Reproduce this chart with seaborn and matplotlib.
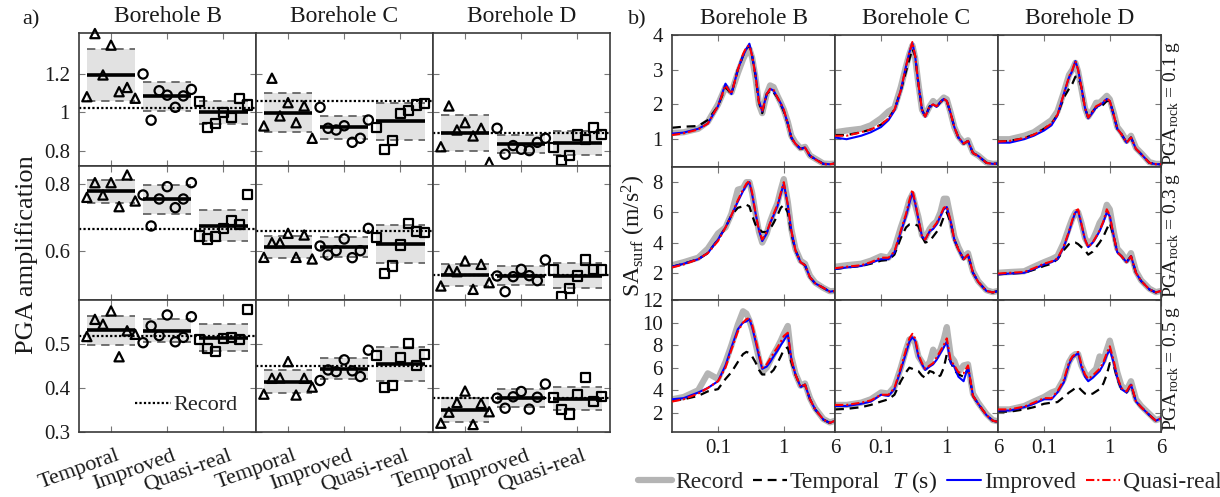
import numpy as np
import matplotlib
matplotlib.use("Agg")
import matplotlib.pyplot as plt
import seaborn as sns
from matplotlib.lines import Line2D
from matplotlib.ticker import FixedLocator, NullLocator, FormatStrFormatter
from matplotlib.transforms import ScaledTranslation

# ---------------- data: panel a (PGA amplification) ----------------
boreholes = ["Borehole B", "Borehole C", "Borehole D"]
methods = ["Temporal", "Improved", "Quasi-real"]
pga_levels = ["0.1", "0.3", "0.5"]

B1_tmp = [1.082, 1.41, 1.195, 1.35, 1.108, 1.13, 1.074]
B1_imp = [1.20, 0.96, 1.113, 1.09, 1.027, 1.086, 1.12]
B1_qr = [1.056, 0.921, 0.944, 0.999, 0.973, 1.074, 1.039]
C1_tmp = [0.93, 1.178, 0.982, 1.051, 0.947, 1.034, 0.866]
C1_imp = [1.027, 0.918, 0.909, 0.931, 0.845, 0.866, 0.961]
C1_qr = [0.921, 0.809, 0.853, 0.996, 1.009, 1.039, 1.048]
D1_tmp = [0.822, 1.034, 0.909, 0.947, 0.878, 0.918, 0.741]
D1_imp = [0.918, 0.783, 0.828, 0.809, 0.802, 0.845, 0.866]
D1_qr = [0.817, 0.75, 0.776, 0.883, 0.861, 0.921, 0.887]

B2_tmp = [0.760, 0.804, 0.767, 0.804, 0.732, 0.827, 0.749]
B2_imp = [0.767, 0.674, 0.755, 0.792, 0.729, 0.755, 0.804]
B2_qr = [0.644, 0.635, 0.642, 0.667, 0.690, 0.679, 0.769]
C2_tmp = [0.580, 0.624, 0.624, 0.652, 0.580, 0.647, 0.575]
C2_imp = [0.614, 0.587, 0.600, 0.635, 0.579, 0.600, 0.667]
C2_qr = [0.639, 0.532, 0.554, 0.617, 0.682, 0.657, 0.655]
D2_tmp = [0.494, 0.542, 0.537, 0.569, 0.484, 0.559, 0.504]
D2_imp = [0.524, 0.477, 0.522, 0.544, 0.525, 0.510, 0.572]
D2_qr = [0.542, 0.462, 0.487, 0.524, 0.572, 0.544, 0.542]

B3_tmp = [0.517, 0.556, 0.545, 0.575, 0.471, 0.530, 0.522]
B3_imp = [0.503, 0.541, 0.519, 0.566, 0.505, 0.515, 0.562]
B3_qr = [0.511, 0.490, 0.483, 0.513, 0.515, 0.511, 0.579]
C3_tmp = [0.386, 0.422, 0.423, 0.460, 0.384, 0.422, 0.402]
C3_imp = [0.417, 0.441, 0.437, 0.464, 0.439, 0.426, 0.486]
C3_qr = [0.473, 0.402, 0.405, 0.470, 0.502, 0.451, 0.477]
D3_tmp = [0.320, 0.345, 0.367, 0.393, 0.317, 0.365, 0.346]
D3_imp = [0.377, 0.354, 0.380, 0.392, 0.352, 0.379, 0.409]
D3_qr = [0.379, 0.352, 0.341, 0.386, 0.424, 0.369, 0.380]

record_row1 = [1.025, 1.061, 0.892]
record_row2 = [0.665, 0.660, 0.527]
record_row3 = [0.518, 0.451, 0.377]

pga_yticks = [[0.8, 1.0, 1.2], [0.6, 0.8], [0.3, 0.4, 0.5]]

# ---------------- data: panel b (surface spectra, m/s^2) ----------------
periods = [0.02, 0.03, 0.05, 0.07, 0.1, 0.13, 0.16, 0.2, 0.24, 0.27, 0.3, 0.33,
           0.37, 0.42, 0.47, 0.55, 0.62, 0.7, 0.8, 0.9, 1.0, 1.15, 1.3, 1.5,
           1.8, 2.1, 2.5, 3.0, 4.0, 5.0, 6.0]

# PGA_rock = 0.1 g
B1_rec = [1.18, 1.2, 1.3, 1.5, 2.0, 2.5, 2.35, 2.9, 3.3, 3.5, 3.6, 3.35, 2.8, 2.0, 1.75, 2.3, 2.55, 2.5, 2.25, 2.05, 1.85, 1.5, 1.1, 0.9, 0.74, 0.78, 0.53, 0.44, 0.3, 0.29, 0.3]
B1_tem = [1.33, 1.36, 1.38, 1.55, 1.95, 2.5, 2.3, 3.0, 3.4, 3.6, 3.7, 3.4, 2.85, 2.05, 1.75, 2.3, 2.4, 2.35, 2.2, 2.0, 1.8, 1.45, 1.05, 0.87, 0.72, 0.76, 0.52, 0.43, 0.29, 0.28, 0.3]
B1_imv = [1.16, 1.19, 1.30, 1.45, 1.95, 2.6, 2.3, 3.0, 3.4, 3.6, 3.75, 3.4, 2.9, 2.1, 1.8, 2.3, 2.45, 2.4, 2.2, 2.03, 1.83, 1.45, 1.05, 0.87, 0.72, 0.76, 0.52, 0.43, 0.29, 0.28, 0.3]
B1_qre = [1.12, 1.17, 1.28, 1.45, 1.95, 2.55, 2.3, 3.0, 3.45, 3.65, 3.7, 3.4, 2.85, 2.05, 1.8, 2.3, 2.45, 2.42, 2.2, 2.03, 1.85, 1.45, 1.05, 0.87, 0.72, 0.76, 0.52, 0.42, 0.28, 0.28, 0.3]
C1_rec = [1.2, 1.25, 1.3, 1.4, 1.6, 1.8, 1.9, 2.5, 3.1, 3.45, 3.7, 3.35, 2.6, 1.85, 1.7, 1.95, 2.1, 2.0, 2.1, 2.2, 2.15, 1.75, 1.35, 1.08, 0.9, 0.97, 0.62, 0.53, 0.33, 0.29, 0.3]
C1_tem = [1.12, 1.12, 1.2, 1.28, 1.42, 1.6, 1.85, 2.4, 2.95, 3.3, 3.6, 3.4, 2.6, 1.85, 1.65, 1.95, 1.95, 1.93, 2.07, 2.16, 2.1, 1.73, 1.35, 1.05, 0.87, 0.95, 0.6, 0.52, 0.32, 0.29, 0.3]
C1_imv = [1.05, 1.0, 1.1, 1.2, 1.35, 1.55, 1.82, 2.4, 3.1, 3.5, 3.77, 3.4, 2.6, 1.83, 1.65, 1.93, 2.0, 1.93, 2.07, 2.16, 2.1, 1.73, 1.35, 1.05, 0.87, 0.95, 0.6, 0.52, 0.32, 0.29, 0.3]
C1_qre = [1.1, 1.1, 1.2, 1.28, 1.42, 1.6, 1.85, 2.4, 3.1, 3.5, 3.8, 3.4, 2.6, 1.85, 1.65, 1.95, 2.0, 1.95, 2.07, 2.16, 2.1, 1.73, 1.35, 1.05, 0.87, 0.95, 0.6, 0.52, 0.32, 0.29, 0.3]
D1_rec = [1.0, 1.0, 1.1, 1.2, 1.4, 1.55, 1.8, 2.35, 2.85, 3.0, 3.2, 2.95, 2.45, 1.9, 1.65, 1.85, 2.05, 2.05, 2.15, 2.25, 2.15, 1.75, 1.35, 1.2, 0.95, 1.1, 0.75, 0.6, 0.34, 0.29, 0.29]
D1_tem = [0.93, 0.95, 1.03, 1.13, 1.3, 1.45, 1.7, 2.2, 2.45, 2.6, 2.8, 2.8, 2.5, 1.9, 1.62, 1.8, 1.92, 1.9, 2.0, 2.1, 2.1, 1.7, 1.3, 1.15, 0.9, 1.05, 0.72, 0.57, 0.32, 0.28, 0.28]
D1_imv = [0.9, 0.9, 1.0, 1.1, 1.25, 1.4, 1.68, 2.3, 2.78, 2.97, 3.25, 3.0, 2.5, 1.9, 1.6, 1.77, 1.92, 1.97, 2.06, 2.16, 2.1, 1.68, 1.3, 1.15, 0.9, 1.05, 0.72, 0.57, 0.32, 0.28, 0.28]
D1_qre = [0.93, 0.95, 1.03, 1.13, 1.3, 1.45, 1.7, 2.3, 2.8, 3.0, 3.25, 3.0, 2.5, 1.9, 1.62, 1.8, 1.95, 2.0, 2.08, 2.17, 2.1, 1.7, 1.3, 1.15, 0.9, 1.05, 0.72, 0.57, 0.32, 0.28, 0.28]

# PGA_rock = 0.3 g
B2_rec = [2.5, 2.7, 3.0, 3.6, 4.6, 5.0, 5.9, 7.5, 7.6, 8.0, 8.0, 7.3, 6.0, 4.7, 4.0, 4.6, 5.4, 6.0, 6.6, 7.5, 8.2, 6.7, 4.9, 3.6, 2.8, 2.6, 1.8, 1.35, 1.0, 0.78, 0.8]
B2_tem = [2.4, 2.6, 2.9, 3.3, 4.2, 5.0, 5.8, 6.3, 6.4, 6.5, 6.4, 5.8, 5.2, 4.9, 4.7, 4.7, 4.9, 5.3, 5.8, 6.3, 6.5, 6.0, 4.6, 3.5, 2.7, 2.5, 1.7, 1.3, 1.0, 0.75, 0.8]
B2_imv = [2.4, 2.6, 2.9, 3.3, 4.2, 5.0, 5.8, 6.7, 7.4, 7.8, 8.0, 7.2, 6.0, 4.8, 4.1, 4.6, 5.3, 5.8, 6.4, 7.2, 7.9, 6.5, 4.8, 3.5, 2.7, 2.5, 1.7, 1.3, 1.0, 0.75, 0.8]
B2_qre = [2.35, 2.55, 2.9, 3.3, 4.1, 5.0, 5.8, 6.8, 7.5, 7.9, 8.1, 7.3, 6.0, 4.8, 4.2, 4.7, 5.3, 5.9, 6.5, 7.3, 8.0, 6.5, 4.8, 3.5, 2.7, 2.5, 1.7, 1.3, 1.0, 0.75, 0.8]
C2_rec = [2.4, 2.5, 2.6, 2.8, 3.1, 3.0, 3.6, 5.0, 6.0, 6.8, 7.2, 6.5, 5.7, 4.5, 4.3, 4.9, 5.2, 5.4, 6.0, 6.9, 6.9, 5.6, 4.4, 3.7, 3.0, 3.3, 2.1, 1.45, 0.85, 0.72, 0.8]
C2_tem = [2.25, 2.35, 2.45, 2.6, 2.8, 2.85, 3.2, 4.3, 5.0, 5.2, 5.2, 5.2, 5.1, 4.4, 4.0, 4.1, 4.4, 4.7, 5.1, 5.7, 6.0, 5.3, 4.2, 3.55, 2.9, 3.2, 2.0, 1.4, 0.8, 0.7, 0.8]
C2_imv = [2.25, 2.35, 2.45, 2.65, 2.9, 2.9, 3.35, 4.7, 5.75, 6.6, 7.3, 6.6, 5.55, 4.4, 4.2, 4.75, 4.9, 5.2, 5.75, 6.2, 6.35, 5.35, 4.2, 3.55, 2.9, 3.2, 2.0, 1.4, 0.8, 0.7, 0.8]
C2_qre = [2.3, 2.4, 2.5, 2.7, 3.0, 3.0, 3.4, 4.8, 5.9, 6.8, 7.5, 6.7, 5.6, 4.4, 4.2, 4.8, 5.0, 5.3, 5.8, 6.3, 6.4, 5.4, 4.2, 3.55, 2.9, 3.2, 2.0, 1.4, 0.8, 0.7, 0.8]
D2_rec = [2.0, 2.05, 2.1, 2.4, 2.7, 2.9, 3.1, 4.0, 5.0, 5.6, 6.0, 6.0, 5.3, 4.3, 3.9, 4.2, 4.7, 5.3, 5.7, 6.5, 6.2, 4.7, 3.6, 3.3, 2.8, 3.3, 2.1, 1.5, 0.95, 0.72, 0.8]
D2_tem = [1.9, 1.95, 2.0, 2.2, 2.45, 2.6, 2.9, 3.5, 3.9, 4.0, 4.0, 3.9, 3.7, 3.5, 3.2, 3.4, 3.7, 4.0, 4.4, 4.9, 5.3, 4.4, 3.35, 3.1, 2.7, 3.1, 2.0, 1.45, 0.9, 0.7, 0.8]
D2_imv = [1.9, 1.95, 2.0, 2.25, 2.55, 2.7, 2.9, 3.7, 4.7, 5.45, 6.0, 6.1, 5.2, 4.2, 3.7, 4.0, 4.35, 4.75, 5.35, 6.0, 5.75, 4.4, 3.35, 3.1, 2.7, 3.1, 2.0, 1.45, 0.9, 0.7, 0.8]
D2_qre = [1.95, 2.0, 2.05, 2.3, 2.6, 2.75, 2.95, 3.75, 4.75, 5.5, 6.1, 6.2, 5.25, 4.2, 3.7, 4.0, 4.4, 4.8, 5.4, 6.2, 5.8, 4.4, 3.35, 3.1, 2.7, 3.1, 2.0, 1.45, 0.9, 0.7, 0.8]

# PGA_rock = 0.5 g
B3_rec = [3.2, 3.4, 4.0, 5.5, 5.0, 6.5, 8.0, 9.8, 11.0, 10.8, 10.2, 9.4, 8.2, 6.8, 5.6, 6.0, 6.6, 7.2, 7.8, 8.4, 9.0, 9.7, 7.0, 5.5, 4.4, 4.6, 3.3, 2.4, 1.45, 1.15, 1.3]
B3_tem = [3.1, 3.2, 3.5, 3.9, 4.1, 5.0, 5.6, 6.5, 7.2, 7.4, 7.3, 7.0, 6.5, 5.8, 5.4, 5.4, 5.5, 5.8, 6.4, 7.0, 7.6, 7.8, 6.5, 5.4, 4.3, 4.5, 3.2, 2.3, 1.4, 1.1, 1.3]
B3_imv = [3.2, 3.3, 3.8, 4.2, 4.8, 6.2, 7.8, 9.4, 10.0, 10.1, 10.3, 9.6, 8.4, 7.0, 5.9, 6.1, 6.5, 7.0, 7.5, 8.0, 8.4, 9.0, 6.8, 5.4, 4.3, 4.5, 3.2, 2.3, 1.4, 1.1, 1.3]
B3_qre = [3.0, 3.2, 3.7, 4.2, 4.8, 6.0, 7.6, 9.2, 10.0, 10.3, 10.4, 9.8, 8.6, 7.2, 6.0, 6.3, 6.8, 7.3, 7.8, 8.3, 8.8, 9.1, 6.8, 5.4, 4.3, 4.5, 3.2, 2.3, 1.4, 1.1, 1.3]
C3_rec = [2.7, 2.7, 2.9, 3.2, 3.8, 3.7, 4.3, 6.0, 7.6, 8.5, 8.6, 8.2, 7.0, 6.5, 6.0, 6.5, 7.6, 7.0, 7.6, 8.5, 9.6, 7.0, 6.6, 5.6, 6.2, 6.3, 3.7, 2.9, 1.9, 1.35, 1.25]
C3_tem = [2.3, 2.35, 2.5, 2.7, 3.0, 3.2, 3.6, 4.8, 5.6, 6.0, 5.9, 5.8, 5.7, 5.3, 5.1, 5.7, 5.6, 5.2, 5.3, 6.0, 7.2, 6.5, 5.8, 5.4, 5.2, 5.9, 3.5, 2.8, 1.8, 1.3, 1.2]
C3_imv = [2.6, 2.6, 2.8, 3.0, 3.6, 3.5, 4.1, 5.8, 7.3, 8.3, 8.7, 8.4, 7.0, 6.3, 5.8, 6.1, 6.3, 6.7, 7.3, 7.8, 8.3, 6.4, 6.1, 5.2, 4.8, 6.1, 3.5, 2.8, 1.8, 1.3, 1.2]
C3_qre = [2.7, 2.7, 2.9, 3.1, 3.6, 3.6, 4.2, 6.0, 7.6, 8.6, 9.0, 8.6, 7.2, 6.4, 5.9, 6.2, 6.4, 6.9, 7.5, 8.0, 8.6, 6.6, 6.2, 5.6, 5.5, 6.2, 3.5, 2.8, 1.8, 1.3, 1.2]
D3_rec = [2.3, 2.3, 2.6, 3.0, 3.4, 3.8, 4.0, 5.0, 6.5, 7.0, 7.2, 7.2, 6.2, 5.5, 5.1, 5.6, 5.9, 7.0, 6.6, 7.6, 8.4, 7.0, 5.6, 4.4, 4.0, 4.8, 3.2, 2.6, 1.9, 1.35, 1.5]
D3_tem = [2.1, 2.1, 2.3, 2.5, 2.8, 2.9, 2.95, 3.4, 3.8, 4.0, 4.2, 4.3, 4.0, 3.7, 3.6, 3.7, 3.9, 4.1, 4.6, 5.4, 6.4, 6.2, 5.0, 4.1, 3.8, 4.5, 3.0, 2.5, 1.8, 1.3, 1.5]
D3_imv = [2.2, 2.2, 2.5, 2.8, 3.2, 3.2, 3.8, 4.7, 6.3, 6.9, 7.1, 7.3, 6.1, 5.2, 4.8, 5.1, 5.4, 5.7, 6.3, 7.1, 7.6, 6.4, 5.1, 4.1, 3.8, 4.5, 3.0, 2.5, 1.8, 1.3, 1.5]
D3_qre = [2.3, 2.3, 2.55, 2.9, 3.3, 3.3, 3.9, 4.9, 6.5, 7.0, 7.2, 7.4, 6.3, 5.4, 5.0, 5.3, 5.6, 5.9, 6.5, 7.3, 7.9, 6.6, 5.2, 4.2, 3.9, 4.6, 3.0, 2.5, 1.8, 1.3, 1.5]

sa_yticks = [[1, 2, 3, 4], [2, 4, 6, 8], [2, 4, 6, 8, 10, 12]]
sa_xticks = [0.1, 1, 6]

# ---------------- assemble ----------------
pga_points = [
    [[B1_tmp, B1_imp, B1_qr], [C1_tmp, C1_imp, C1_qr], [D1_tmp, D1_imp, D1_qr]],
    [[B2_tmp, B2_imp, B2_qr], [C2_tmp, C2_imp, C2_qr], [D2_tmp, D2_imp, D2_qr]],
    [[B3_tmp, B3_imp, B3_qr], [C3_tmp, C3_imp, C3_qr], [D3_tmp, D3_imp, D3_qr]],
]
pga_record = [record_row1, record_row2, record_row3]
spectra = [
    [[B1_rec, B1_tem, B1_imv, B1_qre], [C1_rec, C1_tem, C1_imv, C1_qre], [D1_rec, D1_tem, D1_imv, D1_qre]],
    [[B2_rec, B2_tem, B2_imv, B2_qre], [C2_rec, C2_tem, C2_imv, C2_qre], [D2_rec, D2_tem, D2_imv, D2_qre]],
    [[B3_rec, B3_tem, B3_imv, B3_qre], [C3_rec, C3_tem, C3_imv, C3_qre], [D3_rec, D3_tem, D3_imv, D3_qre]],
]

# ---------------- style ----------------
sns.set_theme(style="white")
plt.rcParams["font.family"] = ["Liberation Serif", "DejaVu Serif"]
plt.rcParams["mathtext.fontset"] = "custom"
plt.rcParams["mathtext.rm"] = "Liberation Serif"
plt.rcParams["mathtext.it"] = "Liberation Serif:italic"
plt.rcParams["axes.unicode_minus"] = False

W, H = 1220, 497
fig = plt.figure(figsize=(W / 100, H / 100), dpi=100)
fig.patch.set_facecolor("white")

def add_ax(x0, y0, x1, y1):
    return fig.add_axes([x0 / W, 1 - y1 / H, (x1 - x0) / W, (y1 - y0) / H])

SPINE = "#3a3a3a"
TXT = "#1a1a1a"

def style_axes(ax):
    for s in ax.spines.values():
        s.set_visible(True)
        s.set_color(SPINE)
        s.set_linewidth(1.2)
    ax.tick_params(direction="in", length=4, width=0.8, color="#777777",
                   top=True, right=True, bottom=True, left=True,
                   labelcolor=TXT)

# ---------------- panel a ----------------
ax_cols = [79, 256, 433, 610]
ax_rows = [33, 166, 300, 432]
ylims_a = [(0.722, 1.413), (0.452, 0.854), (0.30, 0.60)]
markers = ["^", "o", "s"]
half = 0.43
offs = np.linspace(-half, half, 7)

for r in range(3):
    for c in range(3):
        ax = add_ax(ax_cols[c], ax_rows[r], ax_cols[c + 1], ax_rows[r + 1])
        style_axes(ax)
        for g in range(3):
            pts = np.array(pga_points[r][c][g])
            ctr = g + 1
            m = pts.mean()
            sd = pts.std(ddof=1)
            ax.fill_between([ctr - half, ctr + half], m - sd, m + sd,
                            color="#e2e2e2", lw=0, zorder=1)
            ax.hlines([m - sd, m + sd], ctr - half, ctr + half, colors="#5a5a5a",
                      linestyles=(0, (5, 3.5)), lw=1.2, zorder=2)
            ax.hlines(m, ctr - half, ctr + half, colors="black", lw=2.6, zorder=3)
            sns.scatterplot(x=ctr + offs, y=pts, marker=markers[g], s=44,
                            facecolor="none", edgecolor="black", linewidth=1.6,
                            ax=ax, zorder=4, clip_on=False, legend=False)
        ax.axhline(pga_record[r][c], color="black", ls=(0, (1, 1)), lw=1.6, zorder=2.5)
        ax.set_xlim(0.43, 3.58)
        ax.set_ylim(*ylims_a[r])
        ax.set_xticks([1, 2, 3])
        ax.yaxis.set_major_locator(FixedLocator(pga_yticks[r]))
        ax.yaxis.set_major_formatter(FormatStrFormatter("%g"))
        ax.tick_params(axis="y", labelsize=15, pad=6.5, labelleft=(c == 0))
        ax.set_xlabel("")
        ax.set_ylabel("")
        if r == 2:
            ax.set_xticklabels(methods, rotation=20, ha="right",
                               rotation_mode="anchor", fontsize=16)
            ax.tick_params(axis="x", pad=10.5)
            for lbl in ax.get_xticklabels():
                lbl.set_transform(lbl.get_transform() +
                                  ScaledTranslation(5 / 100, 0, fig.dpi_scale_trans))
        else:
            ax.tick_params(axis="x", labelbottom=False)
        if r == 2 and c == 0:
            ax.legend(handles=[Line2D([], [], color="black", ls=(0, (1, 1)), lw=1.6)],
                      labels=["Record"], loc="center right",
                      bbox_to_anchor=((238 - 79) / 177, (432 - 405) / 132),
                      frameon=False, fontsize=16, handlelength=1.6,
                      handletextpad=0.15, borderpad=0, borderaxespad=0)

# ---------------- panel b ----------------
bx_cols = [672, 835, 998, 1161]
bx_rows = [35, 167, 300, 432]
ylims_b = [(0.2, 4.0), (0.2, 9.0), (0.3, 12.0)]
series_styles = [
    dict(color="#b4b4b4", linewidth=4.5, linestyle="-", zorder=1),
    dict(color="black", linewidth=1.6, linestyle=(0, (4, 2.6)), zorder=2),
    dict(color="#0000ff", linewidth=1.5, linestyle="-", zorder=3),
    dict(color="#ff0000", linewidth=1.5, linestyle=(0, (4, 1.4, 1, 1.4)), zorder=4),
]
per = np.array(periods)

for r in range(3):
    for c in range(3):
        ax = add_ax(bx_cols[c], bx_rows[r], bx_cols[c + 1], bx_rows[r + 1])
        style_axes(ax)
        for k in range(4):
            sns.lineplot(x=per, y=np.array(spectra[r][c][k]), ax=ax,
                         estimator=None, sort=False, legend=False,
                         **series_styles[k])
        ax.set_xscale("log")
        ax.set_xlim(0.02, 6)
        ax.set_ylim(*ylims_b[r])
        ax.xaxis.set_major_locator(FixedLocator(sa_xticks))
        ax.xaxis.set_minor_locator(NullLocator())
        ax.xaxis.set_major_formatter(FormatStrFormatter("%g"))
        ax.yaxis.set_major_locator(FixedLocator(sa_yticks[r]))
        ax.yaxis.set_major_formatter(FormatStrFormatter("%g"))
        ax.tick_params(axis="y", labelsize=15, pad=6.5, labelleft=(c == 0))
        ax.tick_params(axis="x", labelsize=15, pad=5, labelbottom=(r == 2))
        ax.set_xlabel("")
        ax.set_ylabel("")
    yc = (bx_rows[r] + bx_rows[r + 1]) / 2 + 2
    fig.text(1172 / W, 1 - yc / H, r"PGA$_{\mathrm{rock}}$ = " + pga_levels[r] + " g",
             rotation=90, ha="center", va="center", fontsize=14, color=TXT)

# ---------------- titles and labels ----------------
for c in range(3):
    fig.text((ax_cols[c] + ax_cols[c + 1]) / 2 / W, 1 - 17 / H, boreholes[c],
             ha="center", va="center", fontsize=17, color=TXT)
    fig.text((bx_cols[c] + bx_cols[c + 1]) / 2 / W, 1 - 18 / H, boreholes[c],
             ha="center", va="center", fontsize=17, color=TXT)
fig.text(31 / W, 1 - 20 / H, "a)", ha="center", va="center", fontsize=16, color=TXT)
fig.text(637 / W, 1 - 20 / H, "b)", ha="center", va="center", fontsize=16, color=TXT)
fig.text(27 / W, 1 - 255 / H, "PGA amplification", rotation=90,
         ha="center", va="center", fontsize=19, color=TXT)
fig.text(634 / W, 1 - 236 / H, r"SA$_{\mathrm{surf}}$ (m/s$^{2}$)", rotation=90,
         ha="center", va="center", fontsize=17, color=TXT)

handles = [Line2D([], [], **{k: v for k, v in st.items() if k != "zorder"})
           for st in series_styles]
names = ["Record", "Temporal", "Improved", "Quasi-real"]
leg_kw = dict(frameon=False, fontsize=17, handlelength=1.45, handletextpad=0.12,
              columnspacing=0.4, borderpad=0, borderaxespad=0, ncol=2)
fig.legend(handles[:2], names[:2], loc="center right",
           bbox_to_anchor=(880 / W, 1 - 482 / H), **leg_kw)
fig.legend(handles[2:], names[2:], loc="center left",
           bbox_to_anchor=(947 / W, 1 - 482 / H), **leg_kw)
fig.text(914 / W, 1 - 482 / H, r"$T$ (s)", ha="center", va="center",
         fontsize=17, color=TXT)

fig.savefig("out.png", dpi=100, facecolor="white")
